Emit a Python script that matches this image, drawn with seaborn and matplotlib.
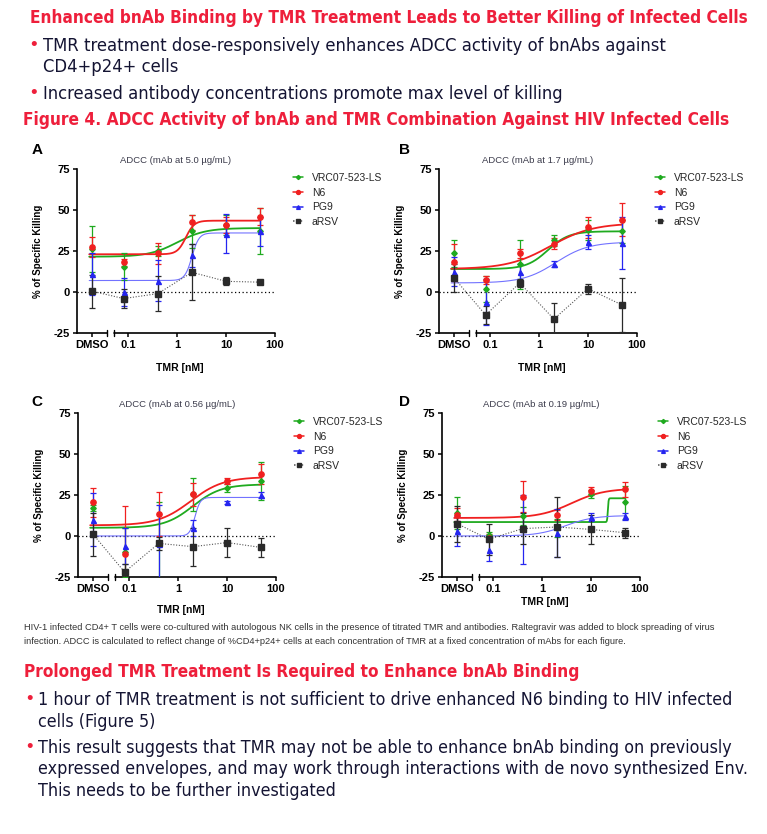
import numpy as np
import pandas as pd
import matplotlib
matplotlib.use('Agg')
import matplotlib.pyplot as plt
import seaborn as sns
from matplotlib import font_manager
from matplotlib.lines import Line2D
from matplotlib.ticker import FixedLocator, NullLocator

# ==========================================
# data
# ==========================================
TMR_NM = [0.08, 0.4, 2, 10, 50]          # TMR doses, DMSO handled apart
SERIES = ['VRC07-523-LS', 'N6', 'PG9', 'aRSV']
PANEL_LABELS = ['A', 'B', 'C', 'D']
MAB_CONC = ['5.0', '1.7', '0.56', '0.19']

# means: [DMSO, 0.08, 0.4, 2, 10, 50]  /  errs: SEM of the same points
A_VRC07 = [26, 15.5, 25, 37, 41, 37]
A_VRC07_ERR = [14, 8, 3, 10, 6, 14]
A_N6 = [27.5, 18, 23.5, 42.5, 41, 46]
A_N6_ERR = [6, 2, 6.5, 4.5, 5, 5]
A_PG9 = [11, 0, 7, 22.5, 35.5, 37]
A_PG9_ERR = [13, 8.5, 12.5, 7, 12, 9]
A_ARSV = [0.5, -4, -1, 12, 6.5, 6]
A_ARSV_ERR = [10, 6, 10.5, 17, 2.5, 1]

B_VRC07 = [23.5, 2, 17, 31.5, 38, 37]
B_VRC07_ERR = [8, 8, 15, 3.5, 6, 7]
B_N6 = [18, 7.5, 23.5, 29.5, 39.5, 44]
B_N6_ERR = [11, 2.5, 2.5, 3.5, 6.5, 10]
B_PG9 = [12.5, -6, 12, 17, 30.5, 30]
B_PG9_ERR = [9, 14, 5, 2, 4.5, 16]
B_ARSV = [8.5, -14, 5.5, -16.5, 2, -8]
B_ARSV_ERR = [8.5, 5.5, 2.5, 10, 3, 16.5]

C_VRC07 = [17, -10, -4, 25.5, 29.5, 33.5]
C_VRC07_ERR = [2, 15, 25, 10, 2.5, 11.5]
C_N6 = [20.5, -11, 13.5, 25.5, 33.5, 38]
C_N6_ERR = [9, 29, 13.5, 7, 2, 6]
C_PG9 = [10, -6, -5, 5, 20.5, 25]
C_PG9_ERR = [16, 11, 24, 5, 1, 2]
C_ARSV = [1, -22, -4.5, -6.5, -4, -7]
C_ARSV_ERR = [13, 5, 4, 11.5, 9, 6]

D_VRC07 = [14, 0.5, 12, 5, 25.5, 20.5]
D_VRC07_ERR = [9.5, 2, 5.5, 5.5, 2.5, 10]
D_N6 = [13, -1, 24, 13, 27.5, 28.5]
D_N6_ERR = [4, 2, 9.5, 3, 2.5, 4.5]
D_PG9 = [3, -8.5, 4, 2, 11.5, 12]
D_PG9_ERR = [9, 6.5, 21, 14.5, 2.5, 2]
D_ARSV = [7.5, -2, 4.5, 5.5, 4, 2]
D_ARSV_ERR = [11, 9.5, 9.5, 18, 9, 3]

# 4PL fit parameters: (bottom, top, EC50 nM, hill)
A_FITS = [(21.5, 39, 1.0, 1.5), (23, 43.5, 1.5, 5), (7, 36, 2.0, 6)]
B_FITS = [(14, 37, 1.5, 2), (14, 42, 1.7, 1.0), (5.5, 30.5, 2.2, 1.3)]
C_FITS = [(5, 31.5, 2.0, 1.5), (6.5, 36, 1.8, 1.3), (0, 23.5, 2.2, 8)]
D_FITS = [(8.5, 23, 22, 60), (11, 29, 4.0, 1.3), (0, 12.5, 3.0, 1.5)]

PANEL_DATA = [
    ([A_VRC07, A_N6, A_PG9, A_ARSV], [A_VRC07_ERR, A_N6_ERR, A_PG9_ERR, A_ARSV_ERR], A_FITS),
    ([B_VRC07, B_N6, B_PG9, B_ARSV], [B_VRC07_ERR, B_N6_ERR, B_PG9_ERR, B_ARSV_ERR], B_FITS),
    ([C_VRC07, C_N6, C_PG9, C_ARSV], [C_VRC07_ERR, C_N6_ERR, C_PG9_ERR, C_ARSV_ERR], C_FITS),
    ([D_VRC07, D_N6, D_PG9, D_ARSV], [D_VRC07_ERR, D_N6_ERR, D_PG9_ERR, D_ARSV_ERR], D_FITS),
]

# ==========================================
# style
# ==========================================
sns.set_theme(style="ticks")
plt.rcParams['font.family'] = ['Liberation Sans', 'DejaVu Sans']
plt.rcParams['axes.unicode_minus'] = False

# slide text was set in a narrow face; use a condensed one if the box has it
NARROW_FAMILY, NARROW_STRETCH = 'Liberation Sans', 'normal'
for f in font_manager.fontManager.ttflist:
    if 'Narrow' in f.name or 'Condensed' in f.name:
        NARROW_FAMILY, NARROW_STRETCH = f.name, 'normal'
        break
    if str(f.stretch) in ('condensed', 'semi-condensed') and f.name in ('Liberation Sans', 'DejaVu Sans', 'Noto Sans', 'Open Sans', 'Roboto'):
        NARROW_FAMILY, NARROW_STRETCH = f.name, str(f.stretch)
        break

RED_TXT = '#ee1f3b'
NAVY = '#141433'
COLORS = {'VRC07-523-LS': '#1faa1f', 'N6': '#f02020', 'PG9': '#2525f0', 'aRSV': '#2a2a2a'}
FIT_COLORS = {'VRC07-523-LS': '#1faa1f', 'N6': '#f02020', 'PG9': '#7272ff'}
FIT_LW = {'VRC07-523-LS': 1.3, 'N6': 1.3, 'PG9': 0.8}
MARKERS = {'VRC07-523-LS': 'D', 'N6': 'o', 'PG9': '^', 'aRSV': 's'}
MSIZE = {'VRC07-523-LS': 2.8, 'N6': 3.8, 'PG9': 3.6, 'aRSV': 3.8}

DMSO_X = 10 ** -1.74       # where DMSO sits on the log axis
X_LEFT = 10 ** -2.05
BREAK_L, BREAK_R = 10 ** -1.43, 10 ** -1.30

W, H = 767, 834
fig = plt.figure(figsize=(W / 100, H / 100), dpi=100)
renderer = fig.canvas.get_renderer()


def fx(px):
    return px / W


def fy(py):
    return 1 - py / H


def fit_size(s, width_px, base=10, **kw):
    t = fig.text(0, 0, s, fontsize=base, **kw)
    w = t.get_window_extent(renderer).width
    t.remove()
    return base * width_px / w


def four_pl(x, bottom, top, ec50, hill):
    return bottom + (top - bottom) / (1 + (ec50 / x) ** hill)


# ==========================================
# panels
# ==========================================
RECTS = [(77, 169), (439, 169), (78, 413), (442, 413)]   # left / top in px
AX_W, AX_H = 198, 164
LETTER_POS = [(37, 150), (404, 150), (37, 402), (405, 402)]
XLABEL_Y = [-0.185, -0.185, -0.17, -0.12]

x_all = [DMSO_X] + TMR_NM
x_fit = np.logspace(-1.80, np.log10(50), 400)

for i, (means_list, errs_list, fits) in enumerate(PANEL_DATA):
    left, top = RECTS[i]
    ax = fig.add_axes([fx(left), fy(top + AX_H), AX_W / W, AX_H / H])
    ax.set_xscale('log')
    ax.set_xlim(X_LEFT, 100)
    ax.set_ylim(-25, 75)

    ax.axhline(0, color='black', lw=0.9, ls=(0, (1, 2)), zorder=1)

    for j, name in enumerate(SERIES):
        means, errs = means_list[j], errs_list[j]
        c = COLORS[name]
        if name == 'aRSV':
            sns.lineplot(x=x_all, y=means, ax=ax, color='#555555', lw=0.8,
                         linestyle=(0, (1, 1.5)), zorder=2, legend=False)
        else:
            b, t, ec, h = fits[j]
            sns.lineplot(x=x_fit, y=four_pl(x_fit, b, t, ec, h), ax=ax,
                         color=FIT_COLORS[name], lw=FIT_LW[name], zorder=2, legend=False)
        ax.errorbar(x_all, means, yerr=errs, fmt='none', ecolor=c, elinewidth=0.9,
                    capsize=2.2, capthick=0.9, zorder=3)
        ax.plot(x_all, means, ls='none', marker=MARKERS[name], ms=MSIZE[name],
                color=c, mec=c, zorder=4)

    # prism style axes with a break between DMSO and the dose range
    sns.despine(ax=ax)
    ax.spines['bottom'].set_visible(False)
    ax.spines['left'].set_linewidth(1.2)
    ax.spines['left'].set_color('black')
    tr = ax.get_xaxis_transform()
    ax.plot([X_LEFT, BREAK_L], [0, 0], color='black', lw=1.2, transform=tr, clip_on=False)
    ax.plot([BREAK_R, 100], [0, 0], color='black', lw=1.2, transform=tr, clip_on=False)
    for xb in (BREAK_L, BREAK_R):
        ax.plot([xb, xb], [-0.02, 0.02], color='black', lw=1.0, transform=tr, clip_on=False)

    ax.xaxis.set_major_locator(FixedLocator([DMSO_X, 0.1, 1, 10, 100]))
    ax.xaxis.set_minor_locator(NullLocator())
    ax.set_xticklabels(['DMSO', '0.1', '1', '10', '100'])
    ax.set_yticks([-25, 0, 25, 50, 75])
    ax.tick_params(axis='both', direction='out', length=3, width=1.1, color='black',
                   labelsize=8, pad=2)
    for lab in ax.get_xticklabels() + ax.get_yticklabels():
        lab.set_fontweight('bold')
        lab.set_color('black')

    ax.set_title(f'ADCC (mAb at {MAB_CONC[i]} \u00b5g/mL)', fontsize=6.8,
                 color='#3b3b4b', pad=4)
    ax.set_ylabel('% of Specific Killing', fontsize=7, fontweight='bold', color='black')
    ax.yaxis.set_label_coords(-0.17, 0.5)
    ax.set_xlabel('TMR [nM]', fontsize=7.5, fontweight='bold', color='black')
    ax.xaxis.set_label_coords(0.52, XLABEL_Y[i])

    handles = []
    for name in SERIES:
        ls = (0, (1, 1.5)) if name == 'aRSV' else '-'
        lc = '#555555' if name == 'aRSV' else COLORS[name]
        handles.append(Line2D([], [], color=lc, ls=ls, lw=1.1, marker=MARKERS[name],
                              ms=MSIZE[name] * 0.75, mfc=COLORS[name], mec=COLORS[name]))
    ax.legend(handles, SERIES, loc='upper left', frameon=False, fontsize=7.5,
              bbox_to_anchor=(fx(left + 216), fy(top + 4)), bbox_transform=fig.transFigure,
              borderaxespad=0, borderpad=0, handlelength=1.0, handletextpad=0.8,
              labelspacing=0.45)

    lx, ly = LETTER_POS[i]
    fig.text(fx(lx), fy(ly), PANEL_LABELS[i], fontsize=11, fontweight='bold',
             color='black', ha='center', va='center')

# ==========================================
# slide text
# ==========================================
HEAD1 = 'Enhanced bnAb Binding by TMR Treatment Leads to Better Killing of Infected Cells'
BUL1 = ['TMR treatment dose-responsively enhances ADCC activity of bnAbs against',
        'CD4+p24+ cells']
BUL2 = ['Increased antibody concentrations promote max level of killing']
FIG_TITLE = 'Figure 4. ADCC Activity of bnAb and TMR Combination Against HIV Infected Cells'
CAPTION = ['HIV-1 infected CD4+ T cells were co-cultured with autologous NK cells in the presence of titrated TMR and antibodies. Raltegravir was added to block spreading of virus',
           'infection. ADCC is calculated to reflect change of %CD4+p24+ cells at each concentration of TMR at a fixed concentration of mAbs for each figure.']
HEAD2 = 'Prolonged TMR Treatment Is Required to Enhance bnAb Binding'
BUL3 = ['1 hour of TMR treatment is not sufficient to drive enhanced N6 binding to HIV infected',
        'cells (Figure 5)']
BUL4 = ['This result suggests that TMR may not be able to enhance bnAb binding on previously',
        'expressed envelopes, and may work through interactions with de novo synthesized Env.',
        'This needs to be further investigated']

head_kw = dict(family=NARROW_FAMILY, fontstretch=NARROW_STRETCH, fontweight='bold', color=RED_TXT)
body_kw = dict(family=NARROW_FAMILY, fontstretch=NARROW_STRETCH, color=NAVY)

s = fit_size(HEAD1, 715, **head_kw)
fig.text(fx(30), fy(18), HEAD1, fontsize=s, va='center', **head_kw)

s = fit_size(BUL1[0], 622, **body_kw)
for line, py in zip(BUL1 + BUL2, [46, 67, 94]):
    fig.text(fx(43), fy(py), line, fontsize=s, va='center', **body_kw)
for py in (45, 93):
    fig.text(fx(30), fy(py), '\u2022', fontsize=s * 1.05, va='center', color=RED_TXT)

s = fit_size(FIG_TITLE, 703, **head_kw)
fig.text(fx(23), fy(120), FIG_TITLE, fontsize=s, va='center', **head_kw)

s = fit_size(CAPTION[0], 690, color='#333333')
for line, py in zip(CAPTION, [628, 641]):
    fig.text(fx(24), fy(py), line, fontsize=s, va='center', color='#333333')

s = fit_size(HEAD2, 554, **head_kw)
fig.text(fx(24), fy(672), HEAD2, fontsize=s, va='center', **head_kw)

s = fit_size(BUL4[1], 708, **body_kw)
for line, py in zip(BUL3 + BUL4, [700, 722, 748, 769, 791]):
    fig.text(fx(38), fy(py), line, fontsize=s, va='center', **body_kw)
for py in (699, 747):
    fig.text(fx(26), fy(py), '\u2022', fontsize=s * 1.05, va='center', color=RED_TXT)

fig.savefig('out.png', dpi=100, facecolor='white')
